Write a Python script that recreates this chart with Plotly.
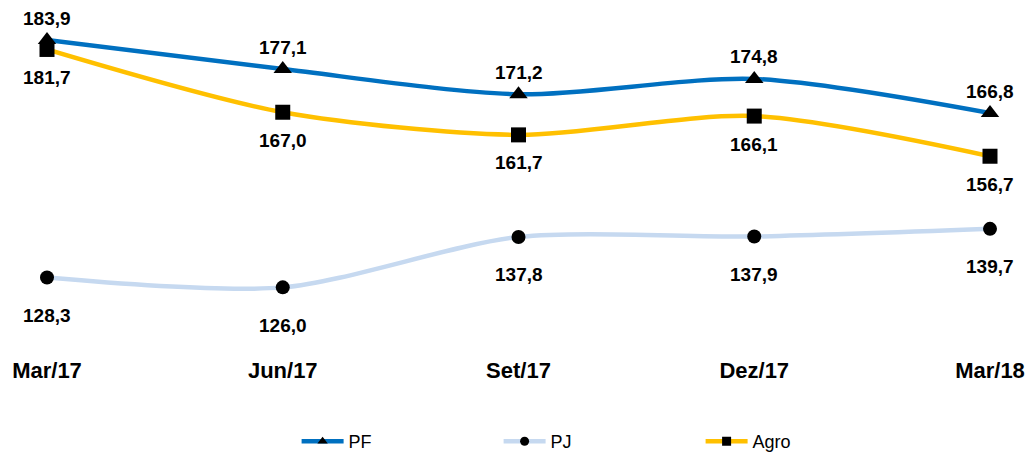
import plotly.graph_objects as go

categories = ["Mar/17", "Jun/17", "Set/17", "Dez/17", "Mar/18"]
pf = [183.9, 177.1, 171.2, 174.8, 166.8]
pj = [128.3, 126.0, 137.8, 137.9, 139.7]
agro = [181.7, 167.0, 161.7, 166.1, 156.7]

xs = list(range(len(categories)))

def fmt(v):
    return f"{v:.1f}".replace(".", ",")

FONT = "Liberation Sans, Arial"
fig = go.Figure()
series = [
    ("PF", pf, "#0070C0", "triangle-up", 16, 22),
    ("PJ", pj, "#C6D9F0", "circle", 14, -38),
    ("Agro", agro, "#FFC000", "square", 15, -28),
]
for name, vals, color, sym, msize, shift in series:
    fig.add_trace(go.Scatter(
        x=xs, y=vals, name=name, mode="lines+markers", showlegend=False,
        line=dict(color=color, width=4.5, shape="spline", smoothing=0.8),
        marker=dict(symbol=sym, color="black", size=msize),
        cliponaxis=False,
    ))
    # legend entry with smaller marker
    fig.add_trace(go.Scatter(
        x=[None], y=[None], name=name, mode="lines+markers",
        line=dict(color=color, width=4.5),
        marker=dict(symbol=sym, color="black", size=9),
    ))
    for x, v in zip(xs, vals):
        fig.add_annotation(x=x, y=v, text=fmt(v), showarrow=False, yshift=shift,
                           font=dict(family=FONT, size=19, color="black", weight="bold"))

fig.update_layout(
    width=1032, height=455,
    margin=dict(l=47, r=42, t=14, b=142, autoexpand=False),
    plot_bgcolor="white", paper_bgcolor="white",
    xaxis=dict(range=[0, 4], tickvals=xs, ticktext=categories, showgrid=False, zeroline=False,
               showline=False, ticks="", ticklabelstandoff=42, automargin=False,
               tickfont=dict(family=FONT, size=22, color="black", weight="bold")),
    yaxis=dict(range=[120, 190], visible=False, automargin=False),
    legend=dict(orientation="h", x=0.586, xanchor="center", y=-0.43, yanchor="middle",
                entrywidth=145, entrywidthmode="pixels", itemwidth=42,
                font=dict(family=FONT, size=18, color="black")),
    showlegend=True,
)

fig.write_html("out.html")
